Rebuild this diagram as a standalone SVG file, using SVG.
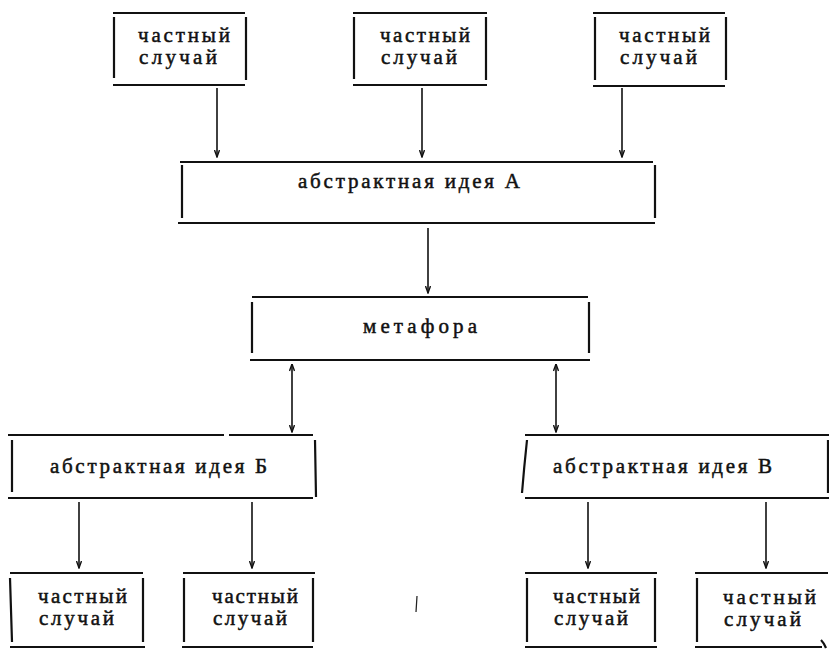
<svg xmlns="http://www.w3.org/2000/svg" width="829" height="649" viewBox="0 0 829 649">
<style>
  .edge { stroke: #111; stroke-width: 2.2; fill: none; stroke-linecap: butt; }
  .conn { stroke: #111; stroke-width: 1.6; fill: none; }
  .lbl { font-family: "Liberation Serif", "DejaVu Serif", serif; font-size: 21px; fill: #111; stroke: #111; stroke-width: 0.5; }
</style>
<defs>
  <marker id="ah" viewBox="0 0 8 6" refX="7.5" refY="3" markerWidth="8" markerHeight="6" markerUnits="userSpaceOnUse" orient="auto-start-reverse">
    <path d="M0.5,0.5 L7.5,3 L0.5,5.5" fill="none" stroke="#111" stroke-width="1.4"/>
  </marker>
</defs>
<rect width="829" height="649" fill="#fff"/>

<g id="case-top-1">
  <path class="edge" d="M113,13 H245 M113,85 H245 M114,17 V78 M246,17 V80"/>
  <text class="lbl" x="138" y="42" textLength="92" lengthAdjust="spacing">частный</text>
  <text class="lbl" x="139" y="64" textLength="78" lengthAdjust="spacing">случай</text>
</g>
<g id="case-top-2">
  <path class="edge" d="M353,13 H487 M353,85 H487 M354,17 V79 M486,17 V80"/>
  <text class="lbl" x="380" y="42" textLength="90" lengthAdjust="spacing">частный</text>
  <text class="lbl" x="381" y="64" textLength="76" lengthAdjust="spacing">случай</text>
</g>
<g id="case-top-3">
  <path class="edge" d="M593,13 H725 M593,86 H725 M595,17 V80 M726,17 V80"/>
  <text class="lbl" x="619" y="42" textLength="91" lengthAdjust="spacing">частный</text>
  <text class="lbl" x="620" y="64" textLength="77" lengthAdjust="spacing">случай</text>
</g>

<g id="idea-A">
  <path class="edge" d="M180,162 H653 M178,223 H655 M182,165 V218 M655,165 V218"/>
  <text class="lbl" x="298" y="188" textLength="222" lengthAdjust="spacing">абстрактная идея А</text>
</g>

<g id="metaphor">
  <path class="edge" d="M252,297 H588 M250,360 H590 M252,302 V353 M589,302 V353"/>
  <text class="lbl" x="363" y="333" textLength="114" lengthAdjust="spacing">метафора</text>
</g>

<g id="idea-B">
  <path class="edge" d="M8,435 H224 M229,435 H313 M8,498 H313 M12,440 V492 M315,440 L316,497"/>
  <text class="lbl" x="50" y="473" textLength="217" lengthAdjust="spacing">абстрактная идея Б</text>
</g>

<g id="idea-V">
  <path class="edge" d="M525,435 H829 M525,498 H829 M527,440 Q524,468 522,493 M828,440 V493"/>
  <text class="lbl" x="553" y="473" textLength="219" lengthAdjust="spacing">абстрактная идея В</text>
</g>

<g id="case-bot-1">
  <path class="edge" d="M10,573 H143 M10,647 H145 M10,578 L12,642 M143,578 V642"/>
  <text class="lbl" x="38" y="603" textLength="89" lengthAdjust="spacing">частный</text>
  <text class="lbl" x="39" y="625" textLength="75" lengthAdjust="spacing">случай</text>
</g>
<g id="case-bot-2">
  <path class="edge" d="M183,573 H315 M182,647 H313 M184,578 V642 M313,578 V642"/>
  <text class="lbl" x="212" y="603" textLength="86" lengthAdjust="spacing">частный</text>
  <text class="lbl" x="213" y="625" textLength="74" lengthAdjust="spacing">случай</text>
</g>
<g id="case-bot-3">
  <path class="edge" d="M525,573 H657 M525,647 H657 M527,578 V642 M655,578 V642"/>
  <text class="lbl" x="553" y="603" textLength="87" lengthAdjust="spacing">частный</text>
  <text class="lbl" x="554" y="625" textLength="74" lengthAdjust="spacing">случай</text>
</g>
<g id="case-bot-4">
  <path class="edge" d="M695,573 H828 M695,647 H822 M697,578 V642 M821,640 Q824,643 826,648"/>
  <text class="lbl" x="723" y="604" textLength="93" lengthAdjust="spacing">частный</text>
  <text class="lbl" x="724" y="626" textLength="77" lengthAdjust="spacing">случай</text>
</g>

<g id="connectors">
  <line class="conn" x1="217" y1="88" x2="217" y2="157" marker-end="url(#ah)"/>
  <line class="conn" x1="422" y1="88" x2="422" y2="157" marker-end="url(#ah)"/>
  <line class="conn" x1="622" y1="88" x2="622" y2="157" marker-end="url(#ah)"/>
  <line class="conn" x1="428" y1="228" x2="428" y2="293" marker-end="url(#ah)"/>
  <line class="conn" x1="292" y1="364" x2="292" y2="432" marker-start="url(#ah)" marker-end="url(#ah)"/>
  <line class="conn" x1="556" y1="364" x2="556" y2="432" marker-start="url(#ah)" marker-end="url(#ah)"/>
  <line class="conn" x1="79" y1="502" x2="79" y2="568" marker-end="url(#ah)"/>
  <line class="conn" x1="252" y1="502" x2="252" y2="568" marker-end="url(#ah)"/>
  <line class="conn" x1="588" y1="502" x2="588" y2="568" marker-end="url(#ah)"/>
  <line class="conn" x1="766" y1="502" x2="766" y2="568" marker-end="url(#ah)"/>
</g>

<path d="M417,596 L416,612" stroke="#222" stroke-width="1.3" fill="none"/>
</svg>
